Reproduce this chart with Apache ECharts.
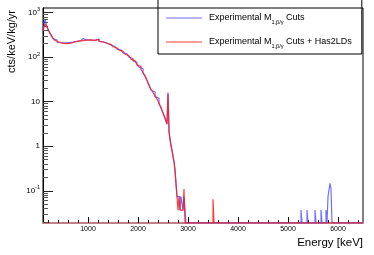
<!DOCTYPE html>
<html><head><meta charset="utf-8">
<script src="https://cdn.jsdelivr.net/npm/echarts@6/dist/echarts.min.js"></script>
<style>html,body{margin:0;padding:0;background:#fff}#c{width:374px;height:255px}</style>
</head><body><div id="c"></div>
<script>
// Histogram bin lower edges (keV); the last bin runs up to X_END
const BIN_EDGES = [
  100,140,180,220,260,300,340,380,420,460,500,540,580,620,660,700,740,780,820,860,
  900,940,980,1020,1060,1100,1140,1180,1220,1260,1300,1340,1380,1420,1460,1500,1540,1580,1620,1660,
  1700,1740,1780,1820,1860,1900,1940,1980,2020,2060,2100,2140,2180,2220,2260,2300,2340,2380,2420,2460,
  2500,2540,
  2580,2600,2620,2640,2660,2680,2700,2720,2740,2760,2780,2800,2820,2840,2860,2880,2900,2920,2940,2960,
  3500,3520,5260,5280,5380,5400,5540,5560,5660,5680,5760,5780,5800,5820,5840,5860,5880
];
const X_START = 100;
const X_END = 6500;
// Experimental M_{1,beta/gamma} Cuts (cts/keV/kg/yr)
const BLUE_RATE = [
  420,700,480,370,320,260,240,215,210,200,208,205,212,210,216,222,225,226,233,236,
  260,242,240,244,236,238,234,252,226,220,210,206,198,188,182,172,162,150,146,136,
  124,118,108,100,92,82,76,68,60,55,44,38,30,24,18,16.5,13,12,9,7.5,
  5.5,4.2,
  3.2,16,2.2,1.5,1.1,0.8,0.6,0.45,0.3,0.15,0.074,0.074,0.074,0.037,0.074,0.074,0.037,0.074,0.037,0,
  0,0,0.037,0,0.037,0,0.037,0,0.037,0,0.037,0,0.074,0.074,0.148,0.111,0
];
// Experimental M_{1,beta/gamma} Cuts + Has2LDs (cts/keV/kg/yr)
const RED_RATE = [
  400,560,470,380,310,265,235,218,208,203,205,200,210,206,214,218,222,228,230,234,
  236,240,242,240,238,236,232,250,224,218,212,204,196,190,180,170,160,152,144,134,
  125,116,107,98,90,83,75,67,61,53,45,37,30,23,19,16,13.5,11.5,9.2,7.2,
  5.6,4.3,
  3.1,15,2.1,1.4,1.0,0.8,0.6,0.45,0.28,0.14,0.074,0.037,0.074,0.037,0.037,0.037,0.037,0.11,0,0,
  0.065,0,0,0,0,0,0,0,0,0,0,0,0,0,0,0,0
];
const X_TICKS = [1000,2000,3000,4000,5000,6000];
const Y_TICKS = [0.1,1,10,100,1000];
const Y_MIN = 0.019, Y_MAX = 1260;
const LEGEND_NAMES = ['Experimental M1,β/γ Cuts','Experimental M1,β/γ Cuts + Has2LDs'];

const X_MINOR = [];
for (let e = 200; e < X_END; e += 200) if (e % 1000 !== 0) X_MINOR.push(e);
const Y_MINOR = [];
[0.01,0.1,1,10,100].forEach(d => { for (let k = 2; k <= 9; k++) { const v = +(k*d).toPrecision(3); if (v > Y_MIN && v < Y_MAX) Y_MINOR.push(v); } });

function histPoints(vals) {
  const pts = BIN_EDGES.map((e, i) => [e, vals[i] > 0 ? vals[i] : Y_MIN]);
  pts.push([X_END, Y_MIN]);
  return pts;
}

const FONT = '"Liberation Sans", Arial, Helvetica, sans-serif';
const chart = echarts.init(document.getElementById('c'), null, {renderer: 'canvas'});
chart.setOption({
  animation: false,
  backgroundColor: '#fff',
  grid: {left: 43, top: 8, right: 11, bottom: 32, show: true, borderColor: '#000', borderWidth: 1, backgroundColor: 'transparent'},
  xAxis: [{
    type: 'value', min: X_START, max: X_END, position: 'bottom',
    axisLine: {show: true, lineStyle: {color: '#c27f88', width: 2}},
    axisTick: {show: true, inside: true, length: 6, customValues: X_TICKS, lineStyle: {color: '#000'}},
    axisLabel: {show: true, customValues: X_TICKS, fontSize: 7, fontFamily: FONT, color: '#000', margin: 3, formatter: v => String(v)},
    splitLine: {show: false}
  }, {
    type: 'value', min: X_START, max: X_END, position: 'bottom',
    axisLine: {show: false},
    axisTick: {show: true, inside: true, length: 3, customValues: X_MINOR, lineStyle: {color: '#222'}},
    axisLabel: {show: false}, splitLine: {show: false}
  }],
  yAxis: [{
    type: 'log', logBase: 10, min: Y_MIN, max: Y_MAX, position: 'left',
    axisLine: {show: true, lineStyle: {color: '#000', width: 1}},
    axisTick: {show: true, inside: true, length: 10, customValues: Y_TICKS, lineStyle: {color: '#222'}},
    axisLabel: {
      show: true, customValues: Y_TICKS, margin: 3,
      formatter: v => { const p = Math.round(Math.log10(v)); if (p === 0) return '{b|1}'; if (p === 1) return '{b|10}'; return '{b|10}{s|' + p + '}'; },
      rich: {
        b: {fontSize: 8, lineHeight: 10, fontFamily: FONT, color: '#000'},
        s: {fontSize: 5.5, lineHeight: 6, padding: [0,0,6,0], fontFamily: FONT, color: '#000'}
      }
    },
    splitLine: {show: false}
  }, {
    type: 'log', logBase: 10, min: Y_MIN, max: Y_MAX, position: 'left',
    axisLine: {show: false},
    axisTick: {show: true, inside: true, length: 5, customValues: Y_MINOR, lineStyle: {color: '#555'}},
    axisLabel: {show: false}, splitLine: {show: false}
  }],
  legend: {
    left: 158, top: -2, orient: 'vertical', icon: 'rect', itemWidth: 36, itemHeight: 1.2,
    itemGap: 10, padding: [13, 10, 5, 8], borderColor: '#000', borderWidth: 1, borderRadius: 0,
    data: LEGEND_NAMES,
    formatter: name => name === LEGEND_NAMES[0]
      ? '{a|Experimental M}{s|1,β/γ}{a| Cuts}'
      : '{a|Experimental M}{s|1,β/γ}{a| Cuts + Has2LDs}',
    textStyle: {
      fontFamily: FONT, color: '#000', padding: [0,0,0,2],
      rich: {
        a: {fontSize: 9, lineHeight: 10, verticalAlign: 'top', fontFamily: FONT, color: '#000'},
        s: {fontSize: 5.5, lineHeight: 6, padding: [8,0,0,0], fontFamily: FONT, color: '#000'}
      }
    }
  },
  series: [{
    name: LEGEND_NAMES[0], type: 'line', step: 'end', showSymbol: false, symbol: 'none',
    xAxisIndex: 0, yAxisIndex: 0, data: histPoints(BLUE_RATE), clip: true,
    color: 'rgba(50,50,255,0.7)', lineStyle: {color: 'rgba(50,50,255,0.7)', width: 1.2}
  }, {
    name: LEGEND_NAMES[1], type: 'line', step: 'end', showSymbol: false, symbol: 'none',
    xAxisIndex: 0, yAxisIndex: 0, data: histPoints(RED_RATE), clip: true,
    color: 'rgba(255,25,25,0.85)', lineStyle: {color: 'rgba(255,25,25,0.85)', width: 1.2}
  }],
  graphic: [{
    type: 'text', x: 12, y: 10, rotation: Math.PI / 2,
    style: {text: 'cts/keV/kg/yr', font: '11px ' + FONT, fill: '#000', align: 'right', verticalAlign: 'middle'}
  }, {
    type: 'text', x: 363, y: 243,
    style: {text: 'Energy [keV]', font: '11.5px ' + FONT, fill: '#000', align: 'right', verticalAlign: 'middle'}
  }]
});
</script>
</body></html>
